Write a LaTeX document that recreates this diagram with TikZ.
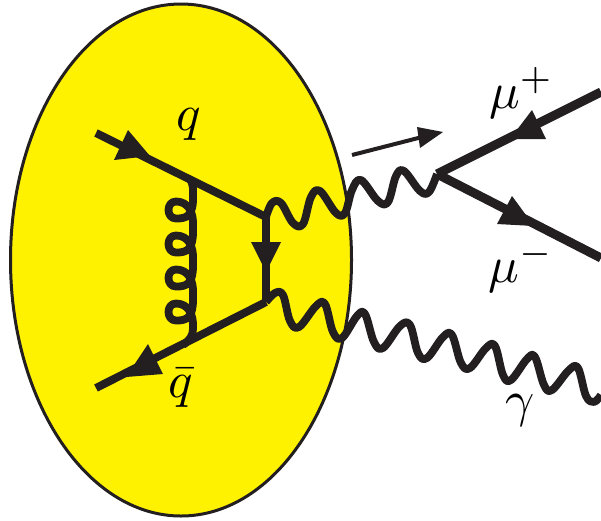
\documentclass[tikz,border=0pt]{standalone}
\usetikzlibrary{shapes.geometric}
\definecolor{ink}{HTML}{231F20}
\definecolor{blob}{HTML}{FFF200}
\tikzset{
  blobshape/.style={ellipse,draw=ink,fill=blob,line width=3pt,inner sep=0pt,outer sep=0pt,minimum width=341pt,minimum height=512pt},
  fermion/.style={draw=ink,line width=8pt},
  lepton/.style={draw=ink,line width=9pt},
  boson/.style={draw=ink,line width=7.8pt,line join=round},
  head/.style={fill=ink,draw=none},
  momentum/.style={draw=ink,line width=4pt},
  lab/.style={text=black,inner sep=0pt,scale=5.1}
}
\begin{document}
\begin{tikzpicture}[x=1pt,y=-1pt]
\useasboundingbox (0,0) rectangle (601,520);
\node[blobshape] (blob) at (181,260) {};
% vertices and free ends
\coordinate (qin) at (96,133);
\coordinate (qa) at (190,179);
\coordinate (v1) at (266,217);
\coordinate (v2) at (266,302);
\coordinate (qb) at (183,345);
\coordinate (qout) at (96,388);
\coordinate (v3) at (437,174);
\coordinate (mup) at (601,92);
\coordinate (mum) at (601,258);
\coordinate (gend) at (601,395);
\coordinate (ma) at (352,155);
\coordinate (mb) at (430,135);
% fermions
\draw[fermion] (qin) -- (v1);
\draw[fermion] (qout) -- (v2);
\draw[fermion] (v1) -- (v2);
\draw[lepton] (v3) -- (mup);
\draw[lepton] (v3) -- (mum);
% gluon
\draw[boson] (qa) .. controls (194,186) and (193,192) .. (193,194)
  \foreach \c in {210,244,278,312} {
    .. controls (194,\c+7) and (186,\c+8.5) .. (176,\c+8.5)
    .. controls (166,\c+8.5) and (166,\c-8.5) .. (176,\c-8.5)
    .. controls (188,\c-8.5) and (194,\c+2) .. (193,\c+17)
  }
  .. controls (193,335) and (190,340) .. (qb);
% photons
\draw[boson] plot[smooth,tension=0.62] coordinates {(v1) (272,203) (281,203) (293,223) (303,224) (311,197) (320,191) (336,213) (345,213) (352,190) (361,180) (378,201) (388,202) (396,176) (404,171) (420,191) (429,192) (v3)};
\draw[boson] plot[smooth,tension=0.62] coordinates {(v2) (275,293) (283,295) (290,321) (299,327) (316,306) (325,304) (333,332) (342,338) (357,316) (365,314) (374,342) (383,348) (400,326) (410,325) (418,353) (427,358) (443,337) (452,335) (461,363) (470,368) (486,348) (495,346) (503,375) (511,380) (527,359) (535,357) (544,385) (552,390) (569,370) (578,368) (586,396) (594,402) (gend)};
% arrowheads
\fill[head] (128,130) -- (150,156) -- (114,160) -- cycle;
\fill[head] (148,344) -- (126,377) -- (163,374) -- cycle;
\fill[head] (251,242) -- (266,272) -- (281,242) -- cycle;
\fill[head] (532,110) -- (510,139) -- (546,139) -- cycle;
\fill[head] (512,196) -- (534,226) -- (497,224) -- cycle;
% momentum arrow
\draw[momentum] (ma) -- (mb);
\fill[head] (417,127) -- (443,132) -- (420,148) -- cycle;
% labels
\node[lab] (lq) at (189,124) {$q$};
\node[lab] (lqb) at (181,388) {$\bar q$};
\node[lab] (lmup) at (521.5,93) {$\mu^+$};
\node[lab] (lmum) at (521.5,267) {$\mu^-$};
\node[lab] (lg) at (520,410) {$\gamma$};
\end{tikzpicture}
\end{document}
